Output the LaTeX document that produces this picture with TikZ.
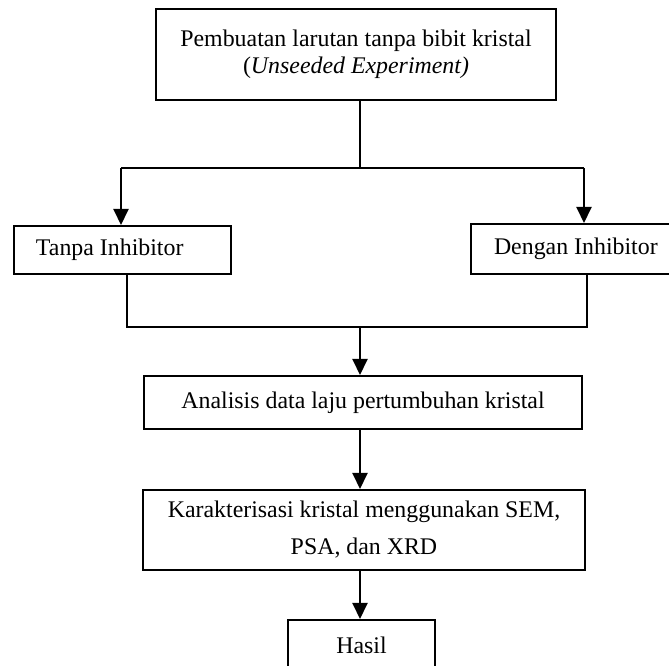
\documentclass[tikz,border=0pt]{standalone}
\usepackage{fontspec}
\setmainfont{Liberation Serif}
\usetikzlibrary{arrows.meta}
\begin{document}
\begin{tikzpicture}[x=0.75pt,y=-0.75pt,
  box/.style={draw, line width=1.5pt, inner sep=0pt, anchor=north west, font=\fontsize{17.9}{20.25}\selectfont},
  link/.style={line width=1.5pt},
  arr/.style={line width=1.5pt, -{Triangle[width=11.25pt,length=12pt]}}]
\useasboundingbox (0,0) rectangle (669,666);
\clip (0,0) rectangle (669,666);
\node[box, align=center, minimum width=400*0.75pt, minimum height=91*0.75pt] (top) at (155,8)
  {Pembuatan larutan tanpa bibit kristal\\(\textit{Unseeded Experiment)}};
\node[box, inner xsep=22*0.75pt, minimum height=48*0.75pt] (tanpa) at (13,225)
  {\makebox[129.75pt][l]{Tanpa Inhibitor}};
\node[box, inner xsep=23*0.75pt, minimum height=50*0.75pt] (dengan) at (470,223)
  {\makebox[135pt][l]{Dengan Inhibitor}};
\node[box, align=center, minimum width=438*0.75pt, minimum height=53*0.75pt] (analisis) at (143,375)
  {Analisis data laju pertumbuhan kristal};
\node[box, align=center, minimum width=442*0.75pt, minimum height=80*0.75pt] (karak) at (142,489)
  {Karakterisasi kristal menggunakan SEM,\\[7.5pt]PSA, dan XRD};
\node[box, align=center, minimum width=147*0.75pt, minimum height=50*0.75pt] (hasil) at (287,619)
  {Hasil};
\coordinate (j1) at (360,168);
\coordinate (jl) at (121,168);
\coordinate (jr) at (584,168);
\coordinate (bl) at (127,327);
\coordinate (br) at (587,327);
\coordinate (bm) at (360,327);
\draw[link] (top.south -| j1) -- (j1);
\draw[link] (jl) -- (jr);
\draw[arr] (jl) -- (tanpa.north -| jl);
\draw[arr] (jr) -- (dengan.north -| jr);
\draw[link] (tanpa.south -| bl) -- (bl) -- (br) -- (dengan.south -| br);
\draw[arr] (bm) -- (analisis.north -| bm);
\draw[arr] (analisis.south -| bm) -- (karak.north -| bm);
\draw[arr] (karak.south -| bm) -- (hasil.north -| bm);
\end{tikzpicture}
\end{document}
